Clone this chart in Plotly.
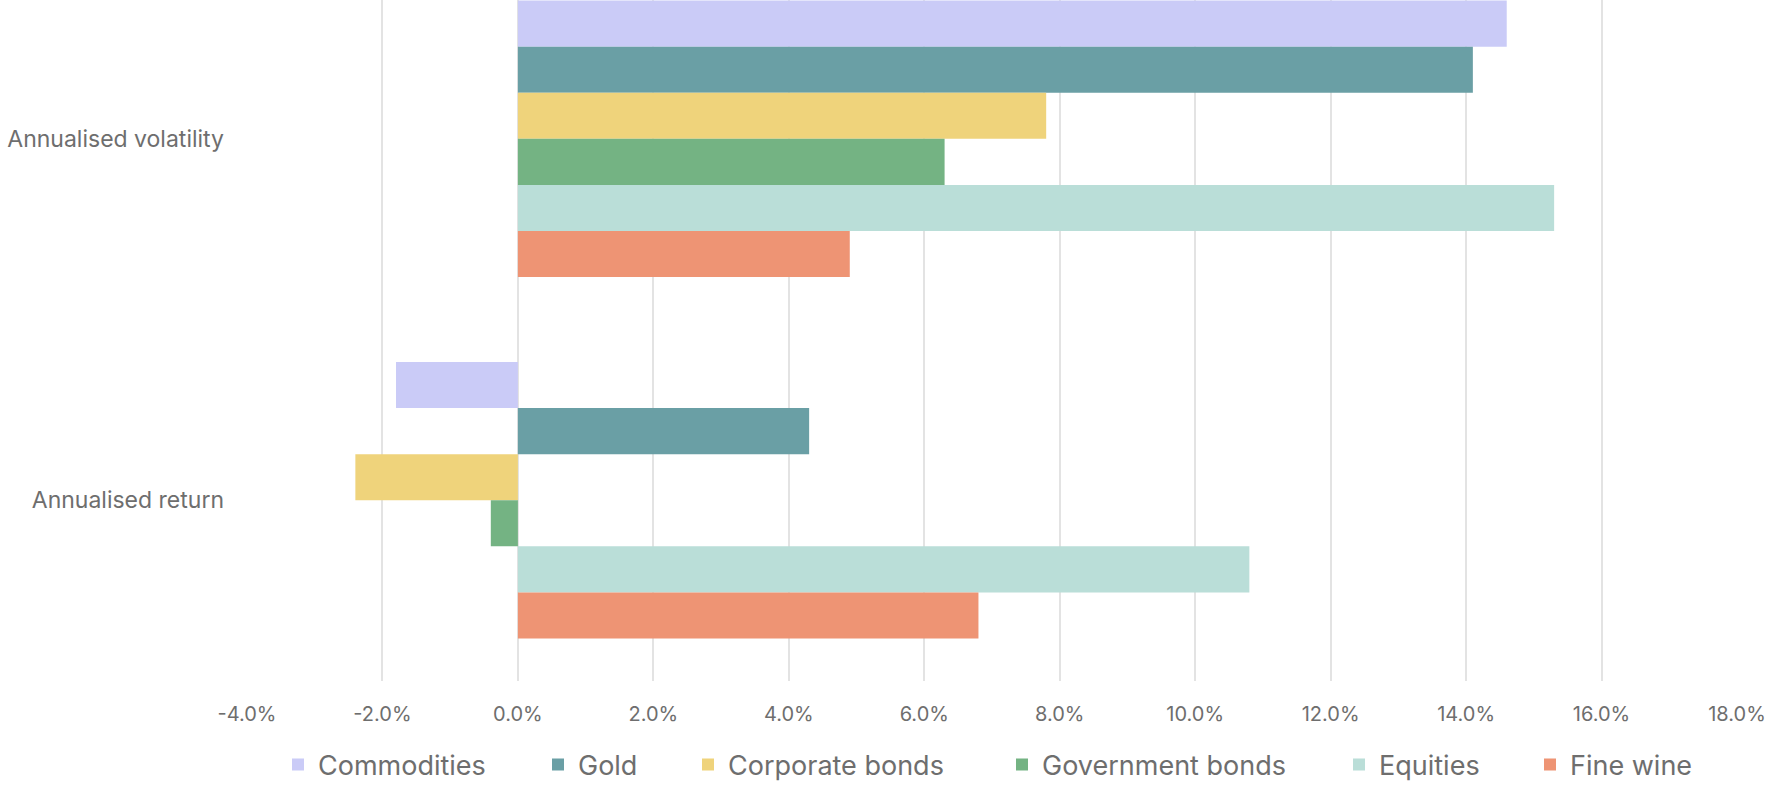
import plotly.graph_objects as go

categories = ["Annualised volatility", "Annualised return"]
series_names = ["Commodities", "Gold", "Corporate bonds", "Government bonds", "Equities", "Fine wine"]
commodities = [14.6, -1.8]
gold = [14.1, 4.3]
corporate_bonds = [7.8, -2.4]
government_bonds = [6.3, -0.4]
equities = [15.3, 10.8]
fine_wine = [4.9, 6.8]
series_values = [commodities, gold, corporate_bonds, government_bonds, equities, fine_wine]
colors = ["#CACBF7", "#6A9FA5", "#EFD37B", "#74B383", "#BADED8", "#EE9474"]
x_ticks = [-4, -2, 0, 2, 4, 6, 8, 10, 12, 14, 16, 18]

# left edge (px) of each legend swatch in the 1788px-wide page
legend_swatch_x = [294, 554, 704, 1018, 1355, 1546]

FONT = "Inter"
TXT = "#6e6e6e"
W, H = 1788, 796

fig = go.Figure()
legend_ids = ["legend"] + [f"legend{i}" for i in range(2, len(series_names) + 1)]
for name, vals, col, lid in zip(series_names, series_values, colors, legend_ids):
    fig.add_trace(go.Bar(
        y=categories, x=vals, name=name, orientation="h",
        marker=dict(color=col, line=dict(width=0)),
        legend=lid,
    ))

layout_legends = {}
for lid, sx in zip(legend_ids, legend_swatch_x):
    layout_legends[lid] = dict(
        orientation="h", x=(sx - 16) / W, xanchor="left", xref="container",
        y=1 - 765 / H, yanchor="middle", yref="container",
        font=dict(size=27, color=TXT), itemclick=False, itemdoubleclick=False,
        bgcolor="rgba(0,0,0,0)", borderwidth=0,
    )

fig.update_layout(
    width=W, height=H,
    barmode="group", bargap=0.235, bargroupgap=0,
    plot_bgcolor="white", paper_bgcolor="white",
    margin=dict(l=247, r=51, t=0, b=115),
    font=dict(family=FONT, color=TXT),
    xaxis=dict(
        range=[-4, 18], tickvals=x_ticks,
        ticktext=[f"{v:.1f}%" for v in x_ticks],
        showgrid=True, gridcolor="#e3e3e3", gridwidth=1.5,
        zeroline=True, zerolinecolor="#e3e3e3", zerolinewidth=1.5,
        showline=False, ticks="", tickfont=dict(size=20, color=TXT),
        ticklabelstandoff=19,
    ),
    yaxis=dict(
        autorange=False, range=[1.5, -0.384],
        showgrid=False, zeroline=False, showline=False, ticks="",
        tickfont=dict(size=23, color=TXT),
        ticklabelstandoff=22,
    ),
    showlegend=True,
    **layout_legends,
)

fig.write_html(
    "out.html",
    config={"displayModeBar": False},
    post_script="document.body.style.margin='0';document.body.style.padding='0';",
)
